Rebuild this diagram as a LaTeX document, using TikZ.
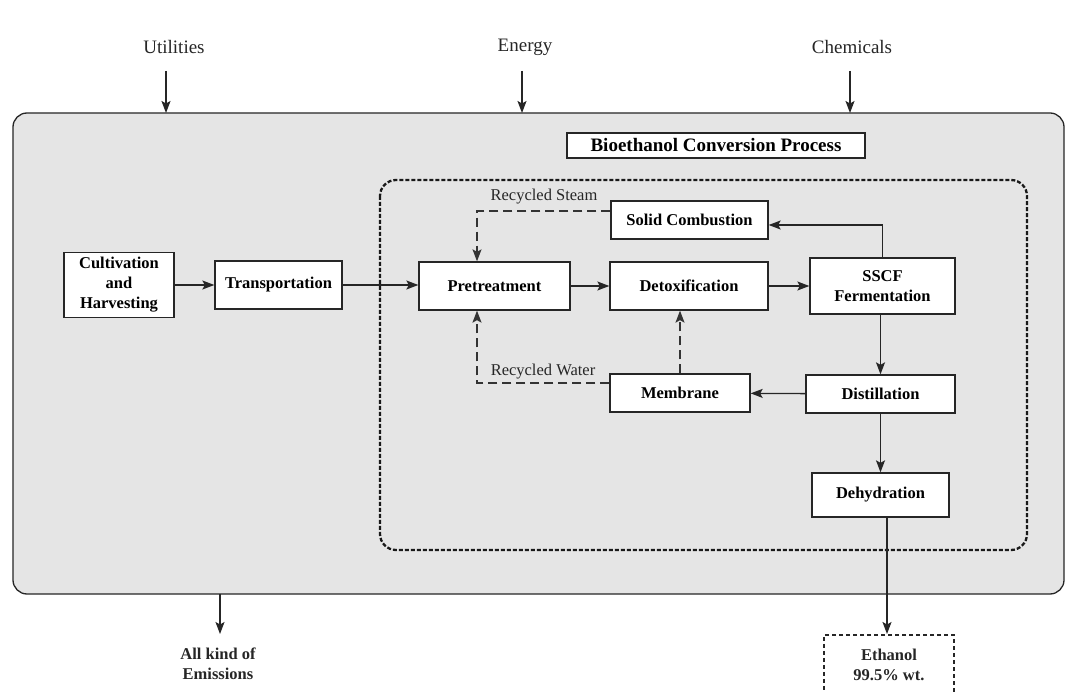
\documentclass[tikz,border=0pt]{standalone}
\usepackage{fontspec}
\setmainfont{Liberation Serif}
\usetikzlibrary{arrows.meta}
\begin{document}
\begin{tikzpicture}[x=1pt,y=-1pt,
  ink/.style={draw=black!85, line width=1.3pt},
  procbox/.style={ink, fill=white, align=center, inner sep=2pt,
    font=\fontsize{16.5}{20}\selectfont\bfseries},
  tip/.style={-{Stealth[length=12pt,width=9pt,inset=2.5pt]}},
  arr/.style={ink, tip},
  recycle/.style={draw=black!80, line width=1.2pt, dash pattern=on 9pt off 5pt, tip},
  inlabel/.style={font=\fontsize{16.5}{19}\selectfont, text=black!85},
  toplabel/.style={font=\fontsize{19}{22}\selectfont, text=black!85},
  botlabel/.style={align=center, font=\fontsize{16.5}{20}\selectfont\bfseries, text=black!85}
]
\clip (0,0) rectangle (1066,692);
\fill[white] (0,0) rectangle (1066,692);

% system boundary
\draw[ink, fill=black!10, rounded corners=14pt] (13,113) rectangle (1064,594);

% conversion plant boundary
\draw[black!90, line width=2.3pt, dash pattern=on 4pt off 2pt, rounded corners=16pt]
  (380,180) rectangle (1027,550);

\node[procbox, minimum width=298pt, minimum height=25pt, font=\fontsize{19}{22}\selectfont\bfseries]
  (title) at (716,145.5) {Bioethanol Conversion Process};

% process steps
\node[procbox, minimum width=110pt, minimum height=65pt] (cult) at (119,285) {Cultivation\\and\\Harvesting};
\node[procbox, minimum width=127pt, minimum height=48pt] (trans) at (278.5,285) {Transportation};
\node[procbox, minimum width=151pt, minimum height=48pt] (pre) at (494.5,286) {Pretreatment};
\node[procbox, minimum width=158pt, minimum height=48pt] (detox) at (689,286) {Detoxification};
\node[procbox, minimum width=145pt, minimum height=56pt] (sscf) at (882.5,286) {SSCF\\Fermentation};
\node[procbox, minimum width=157pt, minimum height=38pt] (solid) at (689.5,220) {Solid Combustion};
\node[procbox, minimum width=140pt, minimum height=38pt] (memb) at (680,393) {Membrane};
\node[procbox, minimum width=149pt, minimum height=38pt] (dist) at (880.5,394) {Distillation};
\node[procbox, minimum width=137pt, minimum height=44pt] (dehyd) at (880.5,495) {Dehydration};

% product
\node[draw=black!85, line width=1.5pt, dash pattern=on 4pt off 3pt, fill=white,
  minimum width=130pt, minimum height=60pt, anchor=north, botlabel,
  text depth=0pt] (eth) at (889,634) {Ethanol\\99.5\% wt.};

% inputs and outputs of the system
\node[toplabel] (util) at (174,47) {Utilities};
\node[toplabel] (ener) at (525,47) {Energy};
\node[toplabel] (chem) at (852,47) {Chemicals};
\coordinate (utilIn) at (166,113);
\coordinate (enerIn) at (522,113);
\coordinate (chemIn) at (850,113);
\draw[arr] (166,71) -- (utilIn);
\draw[arr] (522,71) -- (enerIn);
\draw[arr] (850,71) -- (chemIn);

\node[botlabel] (emis) at (218,664) {All kind of\\Emissions};
\coordinate (emisOut) at (220,594);
\draw[arr] (emisOut) -- (220,634);

% main flow
\draw[arr] (cult.east) -- (cult.east -| trans.west);
\draw[arr] (trans.east) -- (trans.east -| pre.west);
\draw[arr] (pre) -- (detox);
\draw[arr] (detox) -- (sscf);
\draw[arr] (sscf.north) |- ([yshift=-5pt]solid.east);
\draw[arr] (dist.north |- sscf.south) -- (dist.north);
\draw[arr] (dist) -- (memb);
\draw[arr] (dist.south) -- (dehyd.north);
\draw[arr] ([xshift=6.5pt]dehyd.south) -- ([xshift=6.5pt]dehyd.south |- eth.north);

% recycle streams
\draw[recycle] ([yshift=9pt]solid.west) -| ([xshift=-17.5pt]pre.north);
\draw[recycle] ([yshift=10pt]memb.west) -| ([xshift=-17.5pt]pre.south);
\draw[recycle] (memb.north) -- (memb.north |- detox.south);
\node[inlabel] (steam) at (544,197) {Recycled Steam};
\node[inlabel] (water) at (543,372) {Recycled Water};
\end{tikzpicture}
\end{document}
